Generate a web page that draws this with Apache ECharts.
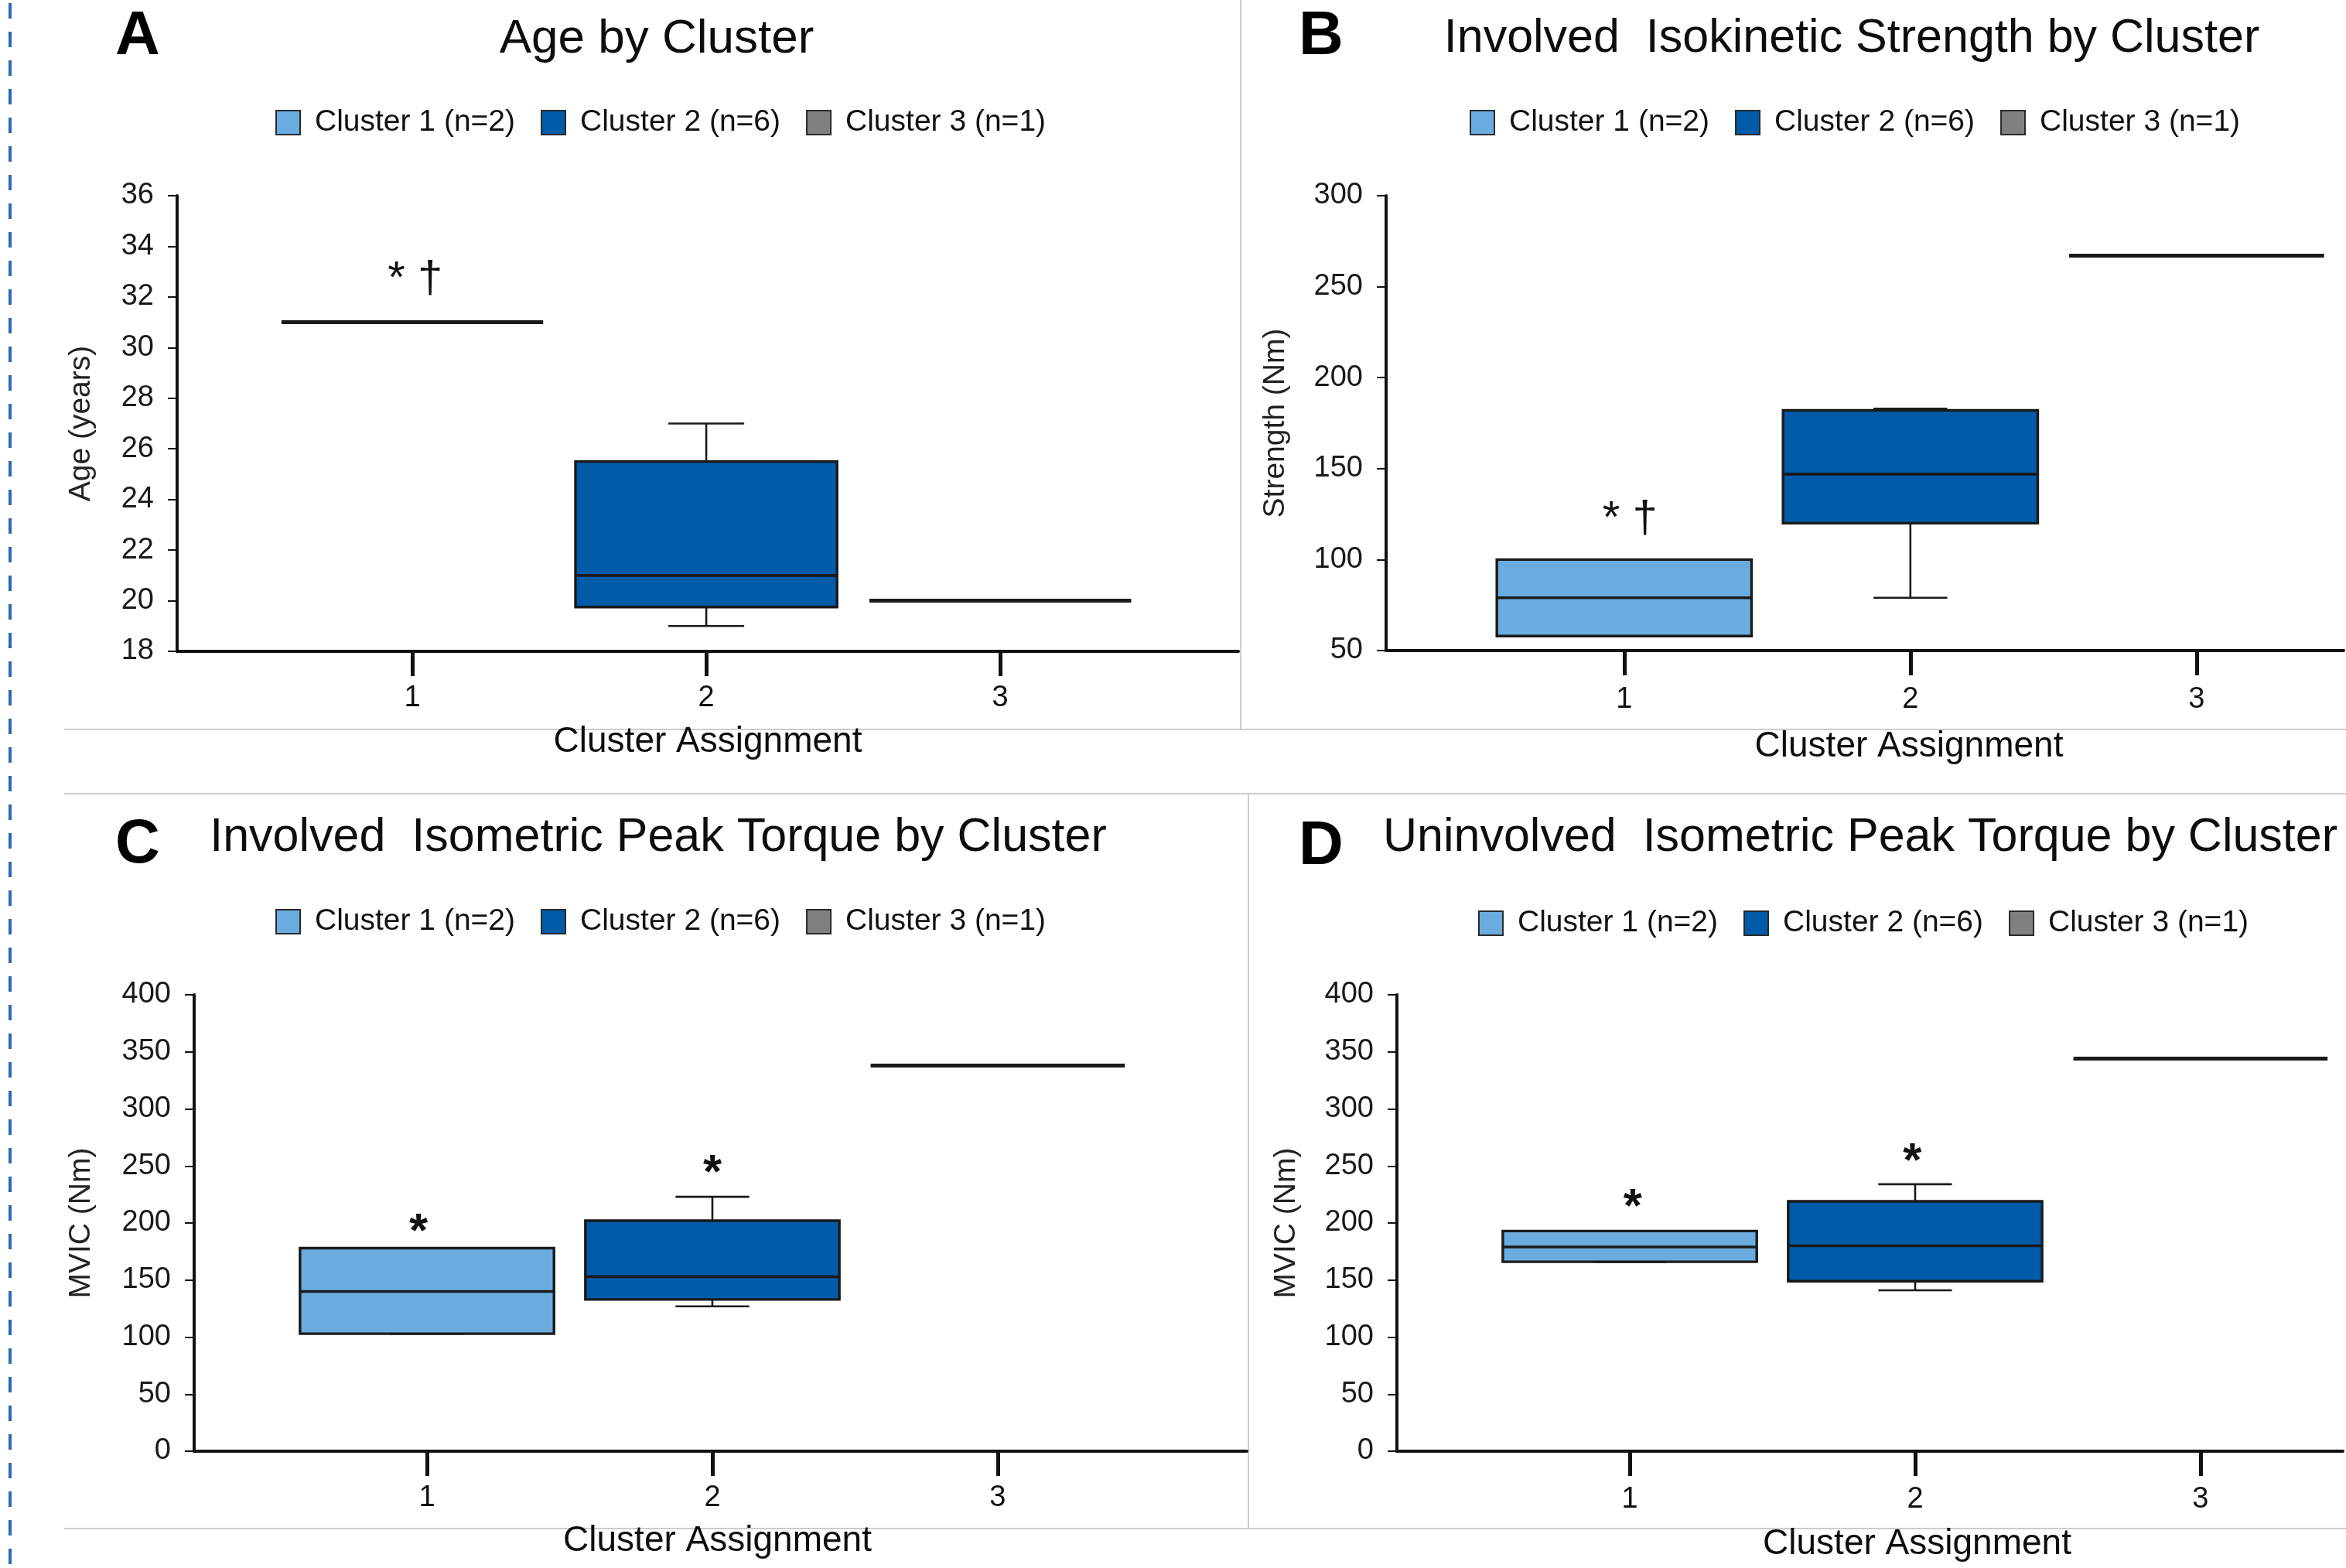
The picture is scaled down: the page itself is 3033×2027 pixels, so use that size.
<!DOCTYPE html>
<html>
<head>
<meta charset="utf-8">
<script src="https://cdn.jsdelivr.net/npm/echarts@6/dist/echarts.min.js"></script>
<style>
html,body{margin:0;padding:0;background:#ffffff;}
#chart{width:3033px;height:2027px;}
</style>
</head>
<body>
<div id="chart"></div>
<script>
// ---------------- DATA ----------------
const clusterNames = ['Cluster 1 (n=2)', 'Cluster 2 (n=6)', 'Cluster 3 (n=1)'];
const clusterPositions = [1, 2, 3];
// each box: [min, Q1, median, Q3, max]
const ageBoxes = [[31, 31, 31, 31, 31], [19, 19.75, 21, 25.5, 27], [20, 20, 20, 20, 20]];
const strengthBoxes = [[58, 58, 79, 100, 100], [79, 120, 147, 182, 183], [267, 267, 267, 267, 267]];
const involvedTorqueBoxes = [[103, 103, 140, 178, 178], [127, 133, 153, 202, 223], [338, 338, 338, 338, 338]];
const uninvolvedTorqueBoxes = [[166, 166, 179, 193, 193], [141, 149, 180, 219, 234], [344, 344, 344, 344, 344]];
// y axis ticks: [min, max, step]
const ageTicks = [18, 36, 2];
const strengthTicks = [50, 300, 50];
const torqueTicks = [0, 400, 50];
// significance marks: [x, y, text]
const ageMarks = [[1.01, 32.67, '* \u2020']];
const strengthMarks = [[1.02, 122, '* \u2020']];
const involvedMarks = [[0.97, 191, '*'], [2.0, 243, '*']];
const uninvolvedMarks = [[1.01, 213, '*'], [1.99, 253, '*']];

// ---------------- STYLE / LAYOUT ----------------
const FONT = "'Liberation Sans', Arial, Helvetica, sans-serif";
const clusterColors = ['#6aacdf', '#005ba9', '#808080'];
const EDGE = '#1a1a1a';
const BOX_FRAC = 0.89;
const CAP_FRAC = 0.29;

const panels = [
  { letter: 'A', title: 'Age by Cluster', yName: 'Age (years)', boxes: ageBoxes, ticks: ageTicks, marks: ageMarks,
    markFont: 'normal 58px ' + FONT, titleSize: 62,
    grid: { left: 229, top: 253, width: 1372, height: 589 }, xMin: 0.2, xMax: 3.81,
    titleX: 849, titleTop: 20, letterX: 178, letterTop: 8, legendLeft: 356, legendTop: 139,
    yNameGap: 104, xNameGap: 94, xNameShift: 0, xLabelMargin: 42 },
  { letter: 'B', title: 'Involved  Isokinetic Strength by Cluster', yName: 'Strength (Nm)', boxes: strengthBoxes, ticks: strengthTicks, marks: strengthMarks,
    markFont: 'normal 58px ' + FONT, titleSize: 61,
    grid: { left: 1792, top: 253, width: 1238, height: 588 }, xMin: 0.168, xMax: 3.514,
    titleX: 2394, titleTop: 20, letterX: 1708, letterTop: 8, legendLeft: 1900, legendTop: 139,
    yNameGap: 123, xNameGap: 101, xNameShift: 57, xLabelMargin: 45 },
  { letter: 'C', title: 'Involved  Isometric Peak Torque by Cluster', yName: 'MVIC (Nm)', boxes: involvedTorqueBoxes, ticks: torqueTicks, marks: involvedMarks,
    markFont: 'bold 62px ' + FONT, titleSize: 61,
    grid: { left: 251, top: 1286, width: 1361, height: 590 }, xMin: 0.184, xMax: 3.873,
    titleX: 851, titleTop: 1053, letterX: 178, letterTop: 1053, legendLeft: 356, legendTop: 1172,
    yNameGap: 126, xNameGap: 93, xNameShift: -4, xLabelMargin: 42 },
  { letter: 'D', title: 'Uninvolved  Isometric Peak Torque by Cluster', yName: 'MVIC (Nm)', boxes: uninvolvedTorqueBoxes, ticks: torqueTicks, marks: uninvolvedMarks,
    markFont: 'bold 62px ' + FONT, titleSize: 61,
    grid: { left: 1806, top: 1286, width: 1223, height: 590 }, xMin: 0.184, xMax: 3.499,
    titleX: 2405, titleTop: 1053, letterX: 1708, letterTop: 1055, legendLeft: 1911, legendTop: 1174,
    yNameGap: 123, xNameGap: 97, xNameShift: 61, xLabelMargin: 44 }
];

// ---------------- RENDERERS ----------------
function boxRenderer(color) {
  return function (params, api) {
    const x = api.value(0);
    const v = [api.value(1), api.value(2), api.value(3), api.value(4), api.value(5)];
    const c = v.map(function (val) { return api.coord([x, val]); });
    const unit = api.size([1, 0])[0];
    const bw = unit * BOX_FRAC;
    const cw = bw * CAP_FRAC;
    const cx = c[0][0];
    const wStyle = { stroke: EDGE, lineWidth: 2.6, fill: null };
    const collapsed = Math.abs(c[1][1] - c[3][1]) < 0.5;
    const children = [];
    // upper whisker
    children.push({ type: 'line', shape: { x1: cx, y1: c[3][1], x2: cx, y2: c[4][1] }, style: wStyle });
    children.push({ type: 'line', shape: { x1: cx - cw / 2, y1: c[4][1], x2: cx + cw / 2, y2: c[4][1] }, style: wStyle });
    // lower whisker
    children.push({ type: 'line', shape: { x1: cx, y1: c[1][1], x2: cx, y2: c[0][1] }, style: wStyle });
    children.push({ type: 'line', shape: { x1: cx - cw / 2, y1: c[0][1], x2: cx + cw / 2, y2: c[0][1] }, style: wStyle });
    // box
    children.push({ type: 'rect', shape: { x: cx - bw / 2, y: c[3][1], width: bw, height: c[1][1] - c[3][1] },
      style: { fill: color, stroke: EDGE, lineWidth: 3.4 } });
    // median
    children.push({ type: 'line', shape: { x1: cx - bw / 2, y1: c[2][1], x2: cx + bw / 2, y2: c[2][1] },
      style: { stroke: EDGE, lineWidth: collapsed ? 5 : 3.6, fill: null } });
    return { type: 'group', children: children };
  };
}

function markRenderer(marks, font) {
  return function (params, api) {
    const p = api.coord([api.value(0), api.value(1)]);
    return { type: 'text', x: p[0], y: p[1],
      style: { text: marks[params.dataIndex][2], font: font, fill: '#111111', align: 'center', verticalAlign: 'middle' } };
  };
}

// ---------------- OPTION ----------------
const option = {
  animation: false,
  backgroundColor: '#ffffff',
  title: [],
  legend: [],
  grid: [],
  xAxis: [],
  yAxis: [],
  series: [],
  graphic: [
    { type: 'line', shape: { x1: 83, y1: 943, x2: 3033, y2: 943 }, style: { stroke: '#cccccc', lineWidth: 2 }, silent: true },
    { type: 'line', shape: { x1: 83, y1: 1026, x2: 3033, y2: 1026 }, style: { stroke: '#cccccc', lineWidth: 2 }, silent: true },
    { type: 'line', shape: { x1: 83, y1: 1976, x2: 3033, y2: 1976 }, style: { stroke: '#cccccc', lineWidth: 2 }, silent: true },
    { type: 'line', shape: { x1: 1604, y1: 0, x2: 1604, y2: 943 }, style: { stroke: '#cccccc', lineWidth: 2 }, silent: true },
    { type: 'line', shape: { x1: 1614, y1: 1026, x2: 1614, y2: 1976 }, style: { stroke: '#cccccc', lineWidth: 2 }, silent: true },
    { type: 'line', shape: { x1: 13, y1: 4, x2: 13, y2: 2027 }, style: { stroke: '#2d6ab7', lineWidth: 4, lineDash: [20, 17] }, silent: true }
  ]
};

panels.forEach(function (p, i) {
  option.title.push({
    text: p.title, left: p.titleX, top: p.titleTop, textAlign: 'center', padding: 0,
    textStyle: { fontFamily: FONT, fontSize: p.titleSize, fontWeight: 'normal', color: '#0d0d0d' }
  });
  option.title.push({
    text: p.letter, left: p.letterX, top: p.letterTop, textAlign: 'center', padding: 0,
    textStyle: { fontFamily: FONT, fontSize: 80, fontWeight: 'bold', color: '#000000' }
  });
  option.legend.push({
    data: clusterNames.map(function (n, k) {
      return { name: n, icon: 'rect', itemStyle: { color: clusterColors[k], borderColor: '#2a2a2a', borderWidth: 2 } };
    }),
    left: p.legendLeft, top: p.legendTop, padding: 0, orient: 'horizontal',
    itemWidth: 31, itemHeight: 31, itemGap: 33, selectedMode: false,
    textStyle: { fontFamily: FONT, fontSize: 39, color: '#111111', padding: [0, 0, 0, 14] }
  });
  option.grid.push({ left: p.grid.left, top: p.grid.top, width: p.grid.width, height: p.grid.height, containLabel: false });
  option.xAxis.push({
    type: 'value', gridIndex: i, min: p.xMin, max: p.xMax,
    splitLine: { show: false },
    axisLine: { show: true, onZero: false, lineStyle: { color: '#111111', width: 4 } },
    axisTick: { show: true, customValues: clusterPositions, length: 32, lineStyle: { color: '#111111', width: 5 } },
    axisLabel: { show: true, customValues: clusterPositions, margin: p.xLabelMargin, fontFamily: FONT, fontSize: 38, color: '#111111',
      formatter: function (v) { return String(Math.round(v)); } },
    name: 'Cluster Assignment', nameLocation: 'middle', nameGap: p.xNameGap,
    nameTextStyle: { fontFamily: FONT, fontSize: 46, color: '#0d0d0d',
      padding: p.xNameShift >= 0 ? [0, 0, 0, p.xNameShift * 2] : [0, -p.xNameShift * 2, 0, 0] }
  });
  option.yAxis.push({
    type: 'value', gridIndex: i, min: p.ticks[0], max: p.ticks[1], interval: p.ticks[2],
    splitLine: { show: false },
    axisLine: { show: true, lineStyle: { color: '#111111', width: 4 } },
    axisTick: { show: true, length: 12, lineStyle: { color: '#111111', width: 2 } },
    axisLabel: { margin: 30, fontFamily: FONT, fontSize: 38, color: '#1a1a1a' },
    name: p.yName, nameLocation: 'middle', nameGap: p.yNameGap,
    nameTextStyle: { fontFamily: FONT, fontSize: 39, color: '#222222' }
  });
  p.boxes.forEach(function (b, k) {
    option.series.push({
      type: 'custom', name: clusterNames[k], xAxisIndex: i, yAxisIndex: i,
      itemStyle: { color: clusterColors[k] },
      clip: false, silent: true,
      encode: { x: 0, y: [1, 2, 3, 4, 5] },
      data: [[clusterPositions[k]].concat(b)],
      renderItem: boxRenderer(clusterColors[k])
    });
  });
  option.series.push({
    type: 'custom', name: 'significance ' + p.letter, xAxisIndex: i, yAxisIndex: i,
    clip: false, silent: true, z: 5,
    data: p.marks.map(function (m) { return [m[0], m[1]]; }),
    renderItem: markRenderer(p.marks, p.markFont)
  });
});

const chart = echarts.init(document.getElementById('chart'), null, { renderer: 'canvas' });
chart.setOption(option);
</script>
</body>
</html>
